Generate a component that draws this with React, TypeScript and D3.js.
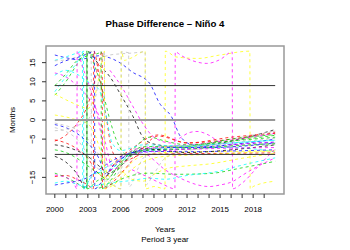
import React from 'react';
import * as d3 from 'd3';

// Phase difference series, [year, months]; a jump between +18 and -18 is a phase wrap
const s01 = [[2000, 17], [2001, 16.3], [2002, 15.8], [2003, 16.2], [2004, 16.8], [2004.7, 16.5], [2006, 14.8], [2007, 12.6], [2008.6, 9.6], [2009.5, 4.4], [2010.6, 0.8], [2011.4, -4.3], [2012.5, -6.5], [2014, -6.9], [2016, -6.4], [2018, -5.8], [2020, -5.0]];
const s02 = [[2000, -9.5], [2001, -11], [2002, -14], [2002.9, -18], [2002.93, 18], [2004, 14.5], [2005, 11.3], [2006, 6.5], [2007.1, 0.9], [2008, -4.5], [2009, -6.3], [2012, -7.2], [2016, -5.5], [2020, -2.5]];
const s03 = [[2000, 15.6], [2001, 16.5], [2002, 17.5], [2002.5, 18], [2002.53, -18], [2003.3, -15], [2004.3, -13], [2005.5, -11], [2007, -9], [2009, -7.5], [2012, -7], [2016, -6], [2020, -5.3]];
const s04 = [[2000, 15.5], [2001, 15.7], [2002, 16.5], [2003, 17.5], [2003.3, 18], [2003.33, -18], [2004.5, -16.5], [2006, -11], [2008, -7], [2012, -6.8], [2016, -5], [2020, -2.8]];
const s05 = [[2000, 14.2], [2001, 15.5], [2002, 16.3], [2003, 17.3], [2003.6, 18], [2003.63, -18], [2004.3, -16], [2005.3, -12.5], [2007, -8.5], [2009, -7.8], [2012, -7.5], [2016, -6.5], [2020, -5.8]];
const s06 = [[2000, 12.3], [2001, 11.3], [2002, 9], [2003, 6], [2004, 1], [2004.6, -6], [2005.2, -12], [2006, -10], [2007.5, -7.5], [2010, -7], [2014, -6], [2020, -3.5]];
const s07 = [[2000, 7.4], [2001, 11.3], [2002, 15], [2002.6, 18], [2002.63, -18], [2003.5, -14], [2004.5, -13.5], [2005.5, -12], [2007, -9], [2008, -8.5], [2012, -7.5], [2016, -7.2], [2020, -8.3]];
const s08 = [[2000, 6.5], [2001, 10], [2002, 14.5], [2002.9, 18], [2002.93, -18], [2003.8, -16], [2004.8, -14.5], [2006.2, -11], [2008, -8], [2012, -7], [2016, -5.5], [2020, -4]];
const s09 = [[2000, 1.3], [2001, 0.8], [2002, 0], [2003, -1], [2003.8, -5], [2004.5, -12], [2005.2, -15.5], [2006, -14], [2007.5, -10], [2010, -8.5], [2014, -8.3], [2020, -8.1]];
const s10 = [[2004, -14], [2005, -16.5], [2006, -18], [2006.03, 18], [2006.3, 15.6], [2007, 16.3], [2008.2, 18], [2008.23, -18], [2009, -17.4], [2010, -18], [2010.03, 18], [2011, 16.5], [2013, 16.1], [2015, 17], [2017.7, 18], [2017.73, -18], [2018, -17.4], [2020, -16]];
const s11 = [[2000, -2], [2001, -3], [2002, -5], [2003, -9], [2004, -13], [2005, -16], [2006, -18], [2006.03, 17.8], [2006.7, 17.6], [2006.73, -17.5], [2007.5, -13], [2008, -10], [2010, -8], [2014, -7], [2020, -6]];
const s12 = [[2000, -0.8], [2001, -1.5], [2002, -2.5], [2003, -5], [2004, -9], [2005, -12], [2006, -10], [2008, -7.5], [2012, -7.3], [2016, -6], [2020, -4.8]];
const s13 = [[2004, 16], [2005, 17], [2006, 17.3], [2007, 17.5], [2008.2, 17.8], [2008.23, -17], [2009, -14], [2010, -10], [2012, -8], [2016, -7], [2020, -6.5]];
const s14 = [[2000, -5.2], [2001, -6], [2002, -7.5], [2003, -10], [2003.8, -13.5], [2004.5, -15], [2005.5, -11], [2007, -7.5], [2009.4, -3.9], [2012, -6], [2016, -5], [2020, -3.2]];
const s15 = [[2000, -14.8], [2001, -14.5], [2002, -15.5], [2003, -17], [2003.5, -18], [2003.53, 18], [2004, 12], [2004.6, 2], [2005.2, -8], [2006, -11], [2008, -9], [2012, -8.8], [2016, -8.7], [2020, -8.6]];
const s16 = [[2000, -7.8], [2001, -8.5], [2002, -10], [2003, -12], [2004, -14], [2004.8, -15.5], [2005.5, -13], [2007, -8], [2008.6, -4.5], [2010, -5.5], [2012, -6.5], [2016, -5.5], [2020, -4.5]];
const s17 = [[2000, -13.9], [2001, -15], [2002, -16.5], [2002.9, -18], [2002.93, 18], [2003.5, 15], [2004.3, 8], [2005, 0], [2005.7, -6], [2006.5, -9], [2008, -8], [2012, -7.6], [2016, -6.8], [2020, -6.2]];
const s18 = [[2004, -17.8], [2005, -17], [2006, -15.5], [2008.6, -13.9], [2011, -14.2], [2014, -14], [2017, -12.5], [2020, -10.8]];
const s19 = [[2000, -16.5], [2001, -16], [2002, -16.8], [2003, -17.5], [2004, -17], [2005, -16.5], [2007, -15.8], [2008.6, -15.2], [2010, -15.5], [2012, -14.5], [2014.7, -13.5], [2017, -11.8], [2020, -9.9]];
const s20 = [[2005, -10], [2006, -13], [2007, -15.5], [2008, -16], [2009, -14.2], [2010.3, -12.6], [2012, -12], [2014, -11.5], [2017, -10], [2020, -8.7]];
const s21 = [[2008, -8], [2009, -10.5], [2010, -13], [2010.9, -14.5], [2012, -16], [2013, -17], [2014, -17.4], [2015, -17], [2016.2, -16], [2017, -14.5], [2018.5, -12], [2020, -9.9]];
const s22 = [[2007, -13], [2008.5, -15], [2009.8, -16.8], [2010.9, -18], [2010.93, 17.8], [2011.5, 16.8], [2012.5, 15.5], [2013.8, 14.8], [2015, 15.8], [2016.1, 17.8], [2016.13, -18], [2017, -16.5], [2018.5, -12], [2020, -7.5]];
const s23 = [[2005, 13], [2006, 9], [2007, 4], [2008, -1], [2009, -4.5], [2010.5, -6], [2011.3, -4.8], [2012.2, -3.3], [2012.9, -3], [2014, -4], [2014.8, -5.5], [2016, -6.5], [2018, -6], [2020, -5.8]];
const s24 = [[2000, -17], [2001, -16.5], [2002, -16], [2003, -15], [2004, -13], [2005, -11], [2006.5, -9], [2008, -8.2], [2012, -8.3], [2016, -8.1], [2020, -7.8]];
const s25 = [[2000, -1.2], [2001, -2], [2002, -3.5], [2003, -6], [2004, -10], [2004.6, -14], [2005.3, -12], [2007, -8.5], [2010, -7.2], [2014, -7.2], [2020, -6]];
const s26 = [[2000, -6.5], [2001, -7], [2002, -8], [2003, -9.5], [2004, -12], [2005, -14], [2006, -12], [2007, -9], [2008, -7.5], [2012, -8.5], [2016, -7.8], [2020, -6.5]];
const s27 = [[2000, -5.5], [2001, -4], [2002, -1], [2003, 4], [2003.6, 10], [2004, 15], [2004.3, 18], [2004.33, -18], [2005, -17], [2006, -14], [2007.5, -9], [2009.4, -4.2], [2012, -6], [2016, -4.5], [2020, -3.5]];
const s28 = [[2000, 6.8], [2001, 5.3], [2002, 4], [2003, 3], [2003.6, 6], [2004.2, 14], [2004.5, 18], [2004.53, -18], [2005.3, -17], [2006.5, -14], [2008, -11], [2010, -9.5], [2014, -9], [2020, -8.1]];
const s29 = [[2000, -14.4], [2001, -15], [2001.8, -17], [2002, -18], [2002.03, 18], [2002.5, 14], [2003, 10], [2003.8, 2], [2004.5, -8], [2005, -13], [2006, -12], [2007, -9], [2010, -8], [2014, -7.5], [2020, -7.2]];
const s30 = [[2000, 9], [2001, 12], [2002, 15.5], [2003, 16.8], [2004, 17.5], [2004.2, 18], [2004.23, -18], [2005, -16], [2006, -12], [2008, -7], [2012, -6.8], [2016, -5], [2020, -3.8]];
const s31 = [[2000, 11.7], [2001, 13], [2002, 12], [2003, 10], [2004, 8], [2004.6, 2], [2005.2, -6], [2006, -8], [2008, -6.5], [2012, -6.8], [2016, -6], [2020, -5.3]];
const s32 = [[2000, -2.8], [2001, -2.5], [2002, -1.5], [2003, 0], [2003.7, 6], [2004.2, 14], [2004.5, 18], [2004.53, -18], [2005.5, -15], [2007, -9], [2010, -7], [2014, -6.5], [2020, -2.9]];

const seriesList = [s01, s02, s03, s04, s05, s06, s07, s08, s09, s10, s11, s12, s13, s14, s15, s16,
  s17, s18, s19, s20, s21, s22, s23, s24, s25, s26, s27, s28, s29, s30, s31, s32];
const seriesColors = ['#0000FF', '#000000', '#00FFFF', '#BEBEBE', '#0000FF', '#FF00FF', '#00FFFF', '#00CD00',
  '#FFFF00', '#FFFF00', '#BEBEBE', '#BEBEBE', '#BEBEBE', '#FF0000', '#FF0000', '#00CD00',
  '#00CD00', '#00CD00', '#00FFFF', '#FFFF00', '#FF00FF', '#FF00FF', '#FF00FF', '#0000FF',
  '#0000FF', '#000000', '#FF0000', '#FFFF00', '#FF00FF', '#00CD00', '#00FFFF', '#BEBEBE'];

const refLines = [9, -9];
const zeroLine = 0;
const dataYears = [2000, 2020];
const xTickYears = d3.range(2000, 2020);
const xLabelYears = [2000, 2003, 2006, 2009, 2012, 2015, 2018];
const yTickValues = [-15, -10, -5, 0, 5, 10, 15];
const yLabelValues = [-15, -5, 0, 5, 10, 15];

const W = 350;
const H = 250;
const plot = { left: 46, right: 284, top: 46, bottom: 194 };
const font = '"Liberation Sans", Arial, Helvetica, sans-serif';

export default function App() {
  const x = d3.scaleLinear().domain([1999.2, 2020.8]).range([plot.left, plot.right]);
  const y = d3.scaleLinear().domain([-19.35, 19.35]).range([plot.bottom, plot.top]);

  const line = d3.line<number[]>()
    .x(d => x(d[0]))
    .y(d => y(d[1]))
    .curve(d3.curveMonotoneX);

  const x0 = x(dataYears[0]);
  const x1 = x(dataYears[1]);
  const midX = (plot.left + plot.right) / 2;

  return (
    <svg width={W} height={H} style={{ position: 'absolute', left: 0, top: 0, background: '#fff' }}
      fontFamily={font}>
      <text x={midX} y={26.5} textAnchor="middle" fontSize={9.7} fontWeight="bold">
        Phase Difference – Niño 4
      </text>

      {seriesList.map((s, i) => (
        <path key={i} d={line(s) ?? ''} fill="none" stroke={seriesColors[i]}
          strokeWidth={1} strokeOpacity={0.75} strokeDasharray="3,3" />
      ))}

      {refLines.map(v => (
        <line key={v} x1={x0} x2={x1} y1={y(v)} y2={y(v)} stroke="#333" strokeWidth={1} />
      ))}
      <line x1={x0} x2={x1} y1={y(zeroLine)} y2={y(zeroLine)} stroke="#999" strokeWidth={2} />

      <rect x={plot.left} y={plot.top} width={plot.right - plot.left} height={plot.bottom - plot.top}
        fill="none" stroke="#999" strokeWidth={1.5} />

      {/* x axis */}
      {xTickYears.map(t => (
        <line key={t} x1={x(t)} x2={x(t)} y1={plot.bottom} y2={plot.bottom + 4} stroke="#333" strokeWidth={1} />
      ))}
      {xLabelYears.map(t => (
        <text key={t} x={x(t)} y={212} textAnchor="middle" fontSize={8}>{t}</text>
      ))}
      <text x={midX} y={232} textAnchor="middle" fontSize={8}>Years</text>
      <text x={midX} y={242} textAnchor="middle" fontSize={8}>Period 3 year</text>

      {/* y axis */}
      {yTickValues.map(v => (
        <line key={v} x1={plot.left - 4} x2={plot.left} y1={y(v)} y2={y(v)} stroke="#333" strokeWidth={1} />
      ))}
      {yLabelValues.map(v => (
        <text key={v} transform={`translate(35,${y(v)}) rotate(-90)`} textAnchor="middle" fontSize={8}>
          {v < 0 ? `−${Math.abs(v)}` : v}
        </text>
      ))}
      <text transform={`translate(15,${(plot.top + plot.bottom) / 2}) rotate(-90)`} textAnchor="middle" fontSize={8}>
        Months
      </text>
    </svg>
  );
}
